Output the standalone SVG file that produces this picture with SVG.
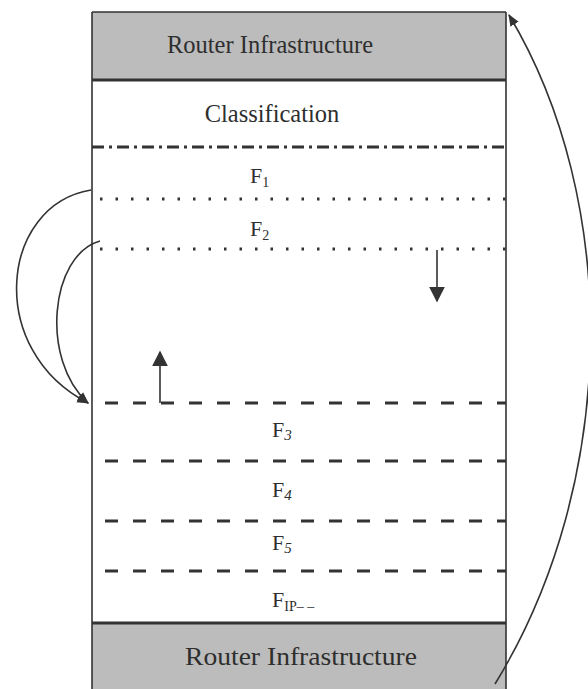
<svg xmlns="http://www.w3.org/2000/svg" width="588" height="689" viewBox="0 0 588 689">
<defs>
<marker id="ah" viewBox="0 0 10 10" refX="9" refY="5" markerWidth="12" markerHeight="12" markerUnits="userSpaceOnUse" orient="auto">
<path d="M0,1 L10,5 L0,9 Z" fill="#333"/>
</marker>
<marker id="ahb" viewBox="0 0 10 10" refX="9" refY="5" markerWidth="16" markerHeight="16" markerUnits="userSpaceOnUse" orient="auto">
<path d="M0,0 L10,5 L0,10 Z" fill="#333"/>
</marker>
</defs>
<style>
.band{fill:#bcbcbc;}
.lbl{font-family:"Liberation Serif","Times New Roman",serif;fill:#2e2e2e;text-anchor:middle;}
.fl{font-family:"Liberation Serif","Times New Roman",serif;fill:#2e2e2e;font-size:22px;}
.edge{stroke:#333;stroke-width:1.6;fill:none;}
.thick{stroke:#333;stroke-width:3;}
.dashed{stroke:#333;stroke-width:3;stroke-dasharray:13 15;}
.dotted{stroke:#333;stroke-width:3;stroke-dasharray:2.5 13;}
.dashdot{stroke:#333;stroke-width:3;stroke-dasharray:12 5 3 5;}
.conn{stroke:#333;stroke-width:1.6;fill:none;}
</style>
<rect x="0" y="0" width="588" height="689" fill="#ffffff"/>

<g id="router-top">
<rect class="band" x="92" y="12" width="414" height="68"/>
<line class="edge" x1="92" y1="12" x2="506" y2="12"/>
<line class="thick" x1="92" y1="80" x2="506" y2="80"/>
<text class="lbl" x="270" y="53" font-size="25" textLength="206" lengthAdjust="spacingAndGlyphs">Router Infrastructure</text>
</g>

<g id="classification">
<text class="lbl" x="272" y="122" font-size="24.5">Classification</text>
<line class="dashdot" x1="92" y1="147" x2="506" y2="147"/>
</g>

<g id="f1">
<text class="fl" x="250" y="183">F<tspan font-size="14" dy="4">1</tspan></text>
<line class="dotted" x1="100" y1="199" x2="506" y2="199"/>
</g>

<g id="f2">
<text class="fl" x="250" y="236">F<tspan font-size="14" dy="4">2</tspan></text>
<line class="dotted" x1="100" y1="249" x2="506" y2="249"/>
</g>

<g id="f3">
<line class="dashed" x1="105" y1="403" x2="506" y2="403"/>
<text class="fl" x="272" y="437">F<tspan font-size="15" font-style="italic" dy="3">3</tspan></text>
</g>

<g id="f4">
<line class="dashed" x1="105" y1="461" x2="506" y2="461"/>
<text class="fl" x="272" y="497">F<tspan font-size="15" font-style="italic" dy="3">4</tspan></text>
</g>

<g id="f5">
<line class="dashed" x1="105" y1="521" x2="506" y2="521"/>
<text class="fl" x="272" y="550">F<tspan font-size="15" font-style="italic" dy="3">5</tspan></text>
<line class="dashed" x1="105" y1="571" x2="506" y2="571"/>
</g>

<g id="fip">
<text class="fl" x="272" y="607">F<tspan font-size="14" dy="4">IP– –</tspan></text>
</g>

<g id="router-bottom">
<rect class="band" x="92" y="623" width="414" height="66"/>
<line class="thick" x1="92" y1="623" x2="506" y2="623"/>
<text class="lbl" x="301" y="665" font-size="26" textLength="232" lengthAdjust="spacingAndGlyphs">Router Infrastructure</text>
</g>

<g id="frame">
<line class="edge" x1="92" y1="12" x2="92" y2="689"/>
<line class="edge" x1="506" y1="12" x2="506" y2="689"/>
</g>

<g id="connectors">
<path class="conn" d="M91,190 C0,205 -15,350 88,403" marker-end="url(#ah)"/>
<path class="conn" d="M100,241 C50,255 40,360 88,403" marker-end="url(#ah)"/>
<path class="conn" d="M495,684 C620,480 620,200 509,15" marker-end="url(#ah)"/>
<line class="conn" x1="437" y1="250" x2="437" y2="301" marker-end="url(#ahb)"/>
<line class="conn" x1="160" y1="403" x2="160" y2="352" marker-end="url(#ahb)"/>
</g>
</svg>
